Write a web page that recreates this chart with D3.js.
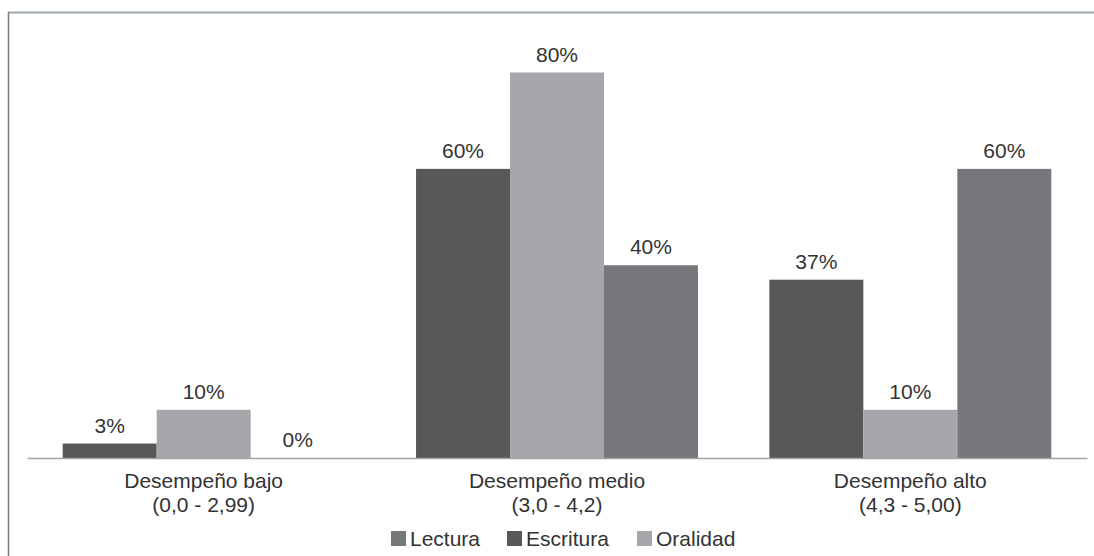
<!DOCTYPE html>
<html>
<head>
<meta charset="utf-8">
<script src="https://cdn.jsdelivr.net/npm/d3@7"></script>
<style>
  html, body { margin: 0; padding: 0; background: #ffffff; }
  svg { display: block; }
  text { font-family: "Liberation Sans", Arial, Helvetica, sans-serif; fill: #333333; }
</style>
</head>
<body>
<svg id="chart" width="1094" height="556"></svg>
<script>
// Performance levels (two-line category labels)
const categories = ["Desempeño bajo", "Desempeño medio", "Desempeño alto"];
const categoryRanges = ["(0,0 - 2,99)", "(3,0 - 4,2)", "(4,3 - 5,00)"];

// Percentage of students per level, by skill
const lectura   = [0, 40, 60];
const escritura = [3, 60, 37];
const oralidad  = [10, 80, 10];

// Legend order and order of bars inside each group
const legendOrder = ["Lectura", "Escritura", "Oralidad"];
const barOrder    = ["Escritura", "Oralidad", "Lectura"];

const seriesValues = { Lectura: lectura, Escritura: escritura, Oralidad: oralidad };
const seriesColors = { Lectura: "#76777a", Escritura: "#58585a", Oralidad: "#a6a7aa" };

const svg = d3.select("#chart");
const W = 1094, H = 556;

// Frame: top and left rules
svg.append("line").attr("x1", 8).attr("x2", W).attr("y1", 12.5).attr("y2", 12.5)
  .attr("stroke", "#9ba6ab").attr("stroke-width", 2);
svg.append("line").attr("x1", 8.5).attr("x2", 8.5).attr("y1", 12).attr("y2", H)
  .attr("stroke", "#6f7d86").attr("stroke-width", 1.5);

const x0 = d3.scaleBand().domain(categories).range([27, 1087]).paddingInner(0).paddingOuter(0);
const x1 = d3.scaleBand().domain(barOrder).range([0, x0.bandwidth()]).paddingInner(0).paddingOuter(0.38);
const y = d3.scaleLinear().domain([0, 80]).range([458, 72.5]);

const rows = categories.map((c, i) => ({
  cat: c,
  bars: barOrder.map(s => ({ series: s, value: seriesValues[s][i] }))
}));

const groups = svg.append("g").selectAll("g.grp").data(rows).join("g")
  .attr("class", "grp")
  .attr("transform", d => `translate(${x0(d.cat)},0)`);

groups.selectAll("rect").data(d => d.bars).join("rect")
  .attr("x", d => x1(d.series))
  .attr("width", x1.bandwidth())
  .attr("y", d => y(d.value))
  .attr("height", d => y(0) - y(d.value))
  .attr("fill", d => seriesColors[d.series]);

groups.selectAll("text.val").data(d => d.bars).join("text")
  .attr("class", "val")
  .attr("x", d => x1(d.series) + x1.bandwidth() / 2)
  .attr("y", d => y(d.value) - 11)
  .attr("text-anchor", "middle")
  .style("font-size", "21px")
  .text(d => d.value + "%");

// Category axis
const xAxis = svg.append("g").attr("transform", `translate(0,${y(0)})`)
  .call(d3.axisBottom(x0).tickSize(0).tickFormat(""));
xAxis.select(".domain").attr("stroke", "#a3a3a3").attr("stroke-width", 1.5);

const labels = xAxis.selectAll(".tick").append("text")
  .attr("text-anchor", "middle")
  .style("font-size", "21px")
  .style("fill", "#333333");
labels.append("tspan").attr("x", 0).attr("y", 30).text(d => d);
labels.append("tspan").attr("x", 0).attr("y", 54).text(d => categoryRanges[categories.indexOf(d)]);

// Legend
const legendX = [391, 507, 637];
const legend = svg.append("g").selectAll("g").data(legendOrder).join("g")
  .attr("transform", (d, i) => `translate(${legendX[i]},531)`);
legend.append("rect").attr("width", 15).attr("height", 15)
  .attr("fill", d => seriesColors[d]);
legend.append("text").attr("x", 19).attr("y", 15)
  .style("font-size", "21px")
  .text(d => d);
</script>
</body>
</html>
